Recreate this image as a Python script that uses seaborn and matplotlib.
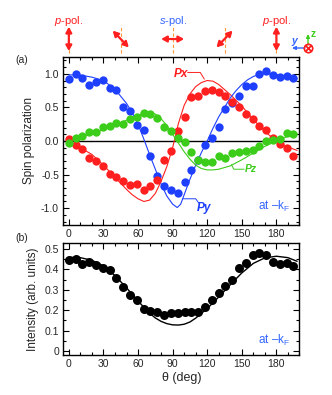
import matplotlib
matplotlib.use("Agg")
import matplotlib.pyplot as plt
import matplotlib.transforms as mtransforms
from matplotlib.ticker import MultipleLocator, FormatStrFormatter
import pandas as pd
import seaborn as sns

# measured angles (deg)
theta = [0, 5.9, 11.8, 17.7, 23.6, 29.5, 35.4, 41.3, 47.2, 53.1, 59.0, 64.9,
         70.8, 76.7, 82.6, 88.5, 94.4, 100.3, 106.2, 112.1, 118.0, 123.9,
         129.8, 135.7, 141.6, 147.5, 153.4, 159.3, 165.2, 171.1, 177.0, 182.9,
         188.8, 194.7]

# spin polarization (a)
px = [0.03, -0.065, -0.125, -0.25, -0.30, -0.365, -0.485, -0.535, -0.60, -0.65,
      -0.635, -0.725, -0.665, -0.575, -0.29, -0.145, 0.145, 0.35, 0.65, 0.675,
      0.74, 0.76, 0.725, 0.665, 0.58, 0.50, 0.40, 0.33, 0.22, 0.17, 0.05, -0.05,
      -0.10, -0.22]
py = [0.925, 1.0, 0.935, 0.835, 0.875, 0.91, 0.785, 0.76, 0.50, 0.45, 0.235,
      0.165, -0.225, -0.525, -0.675, -0.725, -0.775, -0.61, -0.425, -0.285,
      -0.065, 0.05, 0.215, 0.475, 0.56, 0.675, 0.825, 0.815, 1.0, 1.035, 0.975,
      0.95, 0.965, 0.94]
pz = [-0.03, 0.045, 0.07, 0.135, 0.135, 0.205, 0.23, 0.265, 0.25, 0.33, 0.35,
      0.415, 0.40, 0.34, 0.205, 0.15, 0.04, -0.02, -0.17, -0.29, -0.32, -0.315,
      -0.22, -0.25, -0.18, -0.17, -0.145, -0.135, -0.07, 0.005, 0.01, 0.03,
      0.115, 0.105]

# intensity (b)
intensity = [0.448, 0.451, 0.427, 0.435, 0.422, 0.409, 0.396, 0.357, 0.314,
             0.277, 0.249, 0.208, 0.195, 0.190, 0.176, 0.187, 0.187, 0.191,
             0.191, 0.191, 0.215, 0.252, 0.285, 0.318, 0.350, 0.407, 0.432,
             0.472, 0.480, 0.469, 0.436, 0.428, 0.432, 0.419]

# calculated curves
px_fit_th = [0, 10, 20, 30, 40, 50, 55, 60, 65, 70, 75, 80, 85, 90, 95, 100,
             105, 110, 115, 120, 125, 130, 140, 150, 160, 170, 180, 190, 198]
px_fit = [0.0, -0.1, -0.2, -0.36, -0.54, -0.72, -0.8, -0.86, -0.9, -0.88, -0.78,
          -0.6, -0.38, -0.1, 0.26, 0.53, 0.7, 0.81, 0.87, 0.9, 0.89, 0.84, 0.69,
          0.52, 0.32, 0.14, 0.0, -0.09, -0.14]
py_fit_th = [0, 10, 20, 30, 40, 50, 55, 60, 65, 70, 75, 80, 85, 90, 94, 97, 100,
             105, 110, 115, 120, 125, 130, 135, 140, 145, 150, 155, 160, 165,
             170, 180, 190, 198]
py_fit = [0.985, 0.98, 0.95, 0.9, 0.77, 0.56, 0.42, 0.25, 0.03, -0.2, -0.42,
          -0.64, -0.82, -0.94, -0.99, -0.94, -0.8, -0.57, -0.36, -0.17, 0.0, 0.19,
          0.36, 0.5, 0.64, 0.75, 0.84, 0.91, 0.96, 0.99, 1.0, 0.99, 0.96, 0.93]
pz_fit_th = [0, 10, 20, 30, 40, 50, 60, 65, 70, 75, 80, 85, 90, 95, 100, 105,
             110, 115, 120, 125, 130, 140, 150, 160, 170, 180, 190, 198]
pz_fit = [-0.01, 0.05, 0.11, 0.17, 0.24, 0.31, 0.38, 0.42, 0.43, 0.4, 0.33, 0.23,
          0.1, -0.03, -0.16, -0.27, -0.36, -0.41, -0.43, -0.43, -0.42, -0.37,
          -0.28, -0.18, -0.08, 0.0, 0.07, 0.11]
int_fit_th = [0, 10, 20, 30, 40, 50, 60, 70, 75, 80, 85, 90, 95, 100, 105, 110,
              120, 130, 140, 150, 160, 170, 180, 190, 198]
int_fit = [0.46, 0.458, 0.445, 0.418, 0.37, 0.31, 0.245, 0.185, 0.162, 0.145,
           0.134, 0.128, 0.127, 0.131, 0.142, 0.161, 0.208, 0.265, 0.325, 0.383,
           0.43, 0.457, 0.465, 0.458, 0.44]

RED = "#ff1f1f"
BLUE = "#1f3fff"
GREEN = "#3ccc1a"
LBLUE = "#3366ff"
ORANGE = "#ff9933"

sns.set_style("ticks")
plt.rcParams['font.family'] = ['Liberation Sans', 'DejaVu Sans']
plt.rcParams['mathtext.fontset'] = 'custom'
plt.rcParams['mathtext.rm'] = 'Liberation Sans'
plt.rcParams['mathtext.it'] = 'Liberation Sans:italic'

fig = plt.figure(figsize=(3.32, 3.95), dpi=100)
ax1 = fig.add_axes([0.19, 0.4304, 0.712, 0.4253])
ax2 = fig.add_axes([0.19, 0.1013, 0.712, 0.2835])

pts = pd.DataFrame({'theta': theta, 'Px': px, 'Py': py, 'Pz': pz,
                    'I': intensity})

# (a) spin polarization
ax1.axhline(0, color='black', lw=1.0, zorder=1)
for th, val, col in [(px_fit_th, px_fit, RED), (py_fit_th, py_fit, BLUE),
                     (pz_fit_th, pz_fit, GREEN)]:
    sns.lineplot(x=th, y=val, color=col, lw=0.8, estimator=None, sort=False,
                 ax=ax1, zorder=2)
for col_name, col in [('Py', BLUE), ('Px', RED), ('Pz', GREEN)]:
    sns.scatterplot(data=pts, x='theta', y=col_name, color=col, s=36,
                    linewidth=0, ax=ax1, zorder=3)

ax1.set_xlim(-5, 200)
ax1.set_ylim(-1.25, 1.25)
ax1.xaxis.set_major_locator(MultipleLocator(30))
ax1.xaxis.set_minor_locator(MultipleLocator(10))
ax1.yaxis.set_major_locator(MultipleLocator(0.5))
ax1.yaxis.set_minor_locator(MultipleLocator(0.1))
ax1.yaxis.set_major_formatter(FormatStrFormatter('%.1f'))
ax1.set_xlabel('')
ax1.set_ylabel('Spin polarization', fontsize=8.5, labelpad=4)

# curve labels
ax1.text(97, 1.0, 'Px', color=RED, fontsize=8.5, fontweight='bold',
         style='italic', ha='center', va='center')
ax1.plot([103, 114, 117.5], [1.02, 1.02, 0.92], color=RED, lw=0.7)
ax1.text(117, -1.0, 'Py', color=BLUE, fontsize=8.5, fontweight='bold',
         style='italic', ha='center', va='center')
ax1.plot([99, 110, 113], [-0.86, -0.86, -0.93], color=BLUE, lw=0.7)
ax1.text(158, -0.42, 'Pz', color=GREEN, fontsize=7.5, fontweight='bold',
         style='italic', ha='center', va='center')
ax1.plot([141, 143, 152], [-0.35, -0.42, -0.42], color=GREEN, lw=0.7)
ax1.text(192, -0.98, 'at \u2013k$_\\mathregular{F}$', color=LBLUE,
         fontsize=8.5, ha='right', va='center')
ax1.text(-0.2, 1.01, '(a)', transform=ax1.transAxes, fontsize=7.5,
         ha='left', va='top')

# polarization sketch above panel (a)
trans = mtransforms.blended_transform_factory(ax1.transData, ax1.transAxes)
for th in [0, 45, 90, 135, 180]:
    ax1.plot([th, th], [1.024, 1.19], transform=trans, color=ORANGE, lw=0.8,
             ls=(0, (3, 2)), clip_on=False)
arrows = [((0, 1.035), (0, 1.18)), ((38, 1.157), (52, 1.057)),
          ((80, 1.107), (100, 1.107)), ((128, 1.057), (142, 1.157)),
          ((180, 1.035), (180, 1.18))]
for a, b in arrows:
    ax1.annotate('', xy=b, xytext=a, xycoords=trans, textcoords=trans,
                 annotation_clip=False,
                 arrowprops=dict(arrowstyle='<|-|>,head_length=0.4,head_width=0.22',
                                 color=RED, lw=1.6, mutation_scale=8,
                                 shrinkA=0, shrinkB=0))
ax1.text(0, 1.215, '$\\mathit{p}$-pol.', transform=trans, color=RED,
         fontsize=8, ha='center', va='center')
ax1.text(180, 1.215, '$\\mathit{p}$-pol.', transform=trans, color=RED,
         fontsize=8, ha='center', va='center')
ax1.text(90, 1.215, '$\\mathit{s}$-pol.', transform=trans, color=LBLUE,
         fontsize=8, ha='center', va='center')

# coordinate sketch (figure pixels -> fraction)
def fp(x, y):
    return (x / 332, 1 - y / 395)

fig.add_artist(plt.Line2D(*zip(fp(308, 48), fp(308, 48)), marker='o',
                          ms=6, mfc='none', mec=RED, mew=1.0))
fig.add_artist(plt.Line2D(*zip(fp(308, 48), fp(308, 48)), marker='x',
                          ms=4, mec=RED, mew=1.0))
ax1.annotate('', xy=fp(292, 48), xytext=fp(305, 48), xycoords='figure fraction',
             textcoords='figure fraction', annotation_clip=False,
             arrowprops=dict(arrowstyle='-|>', color=LBLUE, lw=1.0,
                             mutation_scale=5, shrinkA=0, shrinkB=0))
ax1.annotate('', xy=fp(308, 34), xytext=fp(308, 45), xycoords='figure fraction',
             textcoords='figure fraction', annotation_clip=False,
             arrowprops=dict(arrowstyle='-|>', color=GREEN, lw=1.0,
                             mutation_scale=5, shrinkA=0, shrinkB=0))
fig.text(*fp(294, 41), 'y', color=LBLUE, fontsize=7.5, fontweight='bold',
         style='italic', ha='center', va='center')
fig.text(*fp(313, 34), 'z', color=GREEN, fontsize=7.5, fontweight='bold',
         ha='center', va='center')

# (b) intensity
sns.lineplot(x=int_fit_th, y=int_fit, color='black', lw=1.0, estimator=None,
             sort=False, ax=ax2, zorder=2)
sns.scatterplot(data=pts, x='theta', y='I', color='black', s=42, linewidth=0,
                ax=ax2, zorder=3)
ax2.set_xlim(-5, 200)
ax2.set_ylim(-0.02, 0.53)
ax2.xaxis.set_major_locator(MultipleLocator(30))
ax2.xaxis.set_minor_locator(MultipleLocator(10))
ax2.yaxis.set_major_locator(MultipleLocator(0.1))
ax2.yaxis.set_minor_locator(MultipleLocator(0.05))
ax2.yaxis.set_major_formatter(plt.FuncFormatter(
    lambda v, _: '0' if abs(v) < 1e-9 else f'{v:.1f}'))
ax2.set_xlabel('\u03b8 (deg)', fontsize=9, labelpad=2)
ax2.set_ylabel('Intensity (arb. units)', fontsize=8.5, labelpad=4)
ax2.text(192, 0.05, 'at \u2013k$_\\mathregular{F}$', color=LBLUE,
         fontsize=8.5, ha='right', va='center')
ax2.text(-0.2, 1.09, '(b)', transform=ax2.transAxes, fontsize=7.5,
         ha='left', va='top')

for ax in (ax1, ax2):
    ax.tick_params(which='both', direction='in', top=True, right=True,
                   labelsize=7.5, width=0.8, color='black')
    ax.tick_params(which='major', length=4, pad=3)
    ax.tick_params(which='minor', length=2)
    for sp in ax.spines.values():
        sp.set_linewidth(1.0)
        sp.set_color('black')

fig.savefig('out.png', dpi=100)
